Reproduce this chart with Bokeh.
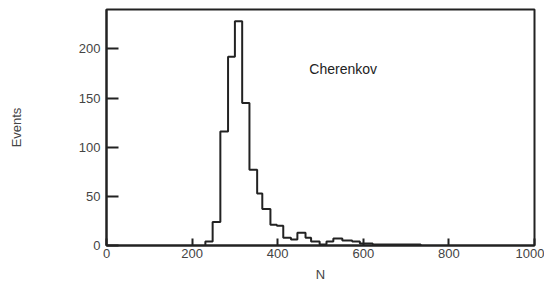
from bokeh.plotting import figure
from bokeh.models import Range1d, FixedTicker, Label
from bokeh.embed import file_html
from bokeh.resources import INLINE

# Histogram bin edges (N) and counts (Events)
bin_edges = [231, 248, 266, 284, 300, 317, 334, 352, 364, 383, 398, 413, 431, 446,
             465, 478, 498, 514, 530, 551, 574, 592, 607, 622, 640, 658, 676, 694,
             712, 734]
counts = [4, 24, 116, 192, 228, 145, 77, 53, 37, 21, 20, 8, 6, 13,
          8, 4, 1, 4, 7, 5, 4, 2, 2, 1, 1, 1, 1, 1, 1]
x_ticks = [0, 200, 400, 600, 800, 1000]
y_ticks = [0, 50, 100, 150, 200]
annotation = "Cherenkov"

FONT = "Liberation Sans"

p = figure(frame_width=428, frame_height=236, output_backend="svg",
           toolbar_location=None,
           x_range=Range1d(0, 1000), y_range=Range1d(0, 240),
           min_border_left=106, min_border_right=10, min_border_top=9,
           min_border_bottom=30)

p.grid.visible = False
p.outline_line_color = "#222222"
p.outline_line_width = 2

xs = [bin_edges[0]] + bin_edges
ys = [0] + counts + [0]
p.step(xs, ys, mode="after", line_color="#222222", line_width=2)

for ax in (p.xaxis[0], p.yaxis[0]):
    ax.axis_line_color = "#222222"
    ax.axis_line_width = 2
    ax.major_tick_out = 0
    ax.minor_tick_line_color = None
    ax.major_tick_line_color = "#222222"
    ax.major_tick_line_width = 2
    ax.major_label_text_font = FONT
    ax.major_label_text_font_size = "13px"
    ax.major_label_text_color = "#444444"
    ax.axis_label_text_font = FONT
    ax.axis_label_text_font_size = "13px"
    ax.axis_label_text_font_style = "normal"
    ax.axis_label_text_color = "#444444"

p.xaxis.ticker = FixedTicker(ticks=x_ticks)
p.yaxis.ticker = FixedTicker(ticks=y_ticks)
p.xaxis.major_tick_in = 7
p.yaxis.major_tick_in = 12
p.xaxis.major_label_standoff = 3
p.yaxis.major_label_standoff = 6
p.xaxis.axis_label = "N"
p.yaxis.axis_label = "Events"
p.xaxis.axis_label_standoff = 6
p.yaxis.axis_label_standoff = 52

p.add_layout(Label(x=474, y=180, text=annotation, text_font=FONT,
                   text_font_size="14px", text_color="#222222",
                   text_baseline="middle"))

open("out.html", "w").write(file_html(p, INLINE))
